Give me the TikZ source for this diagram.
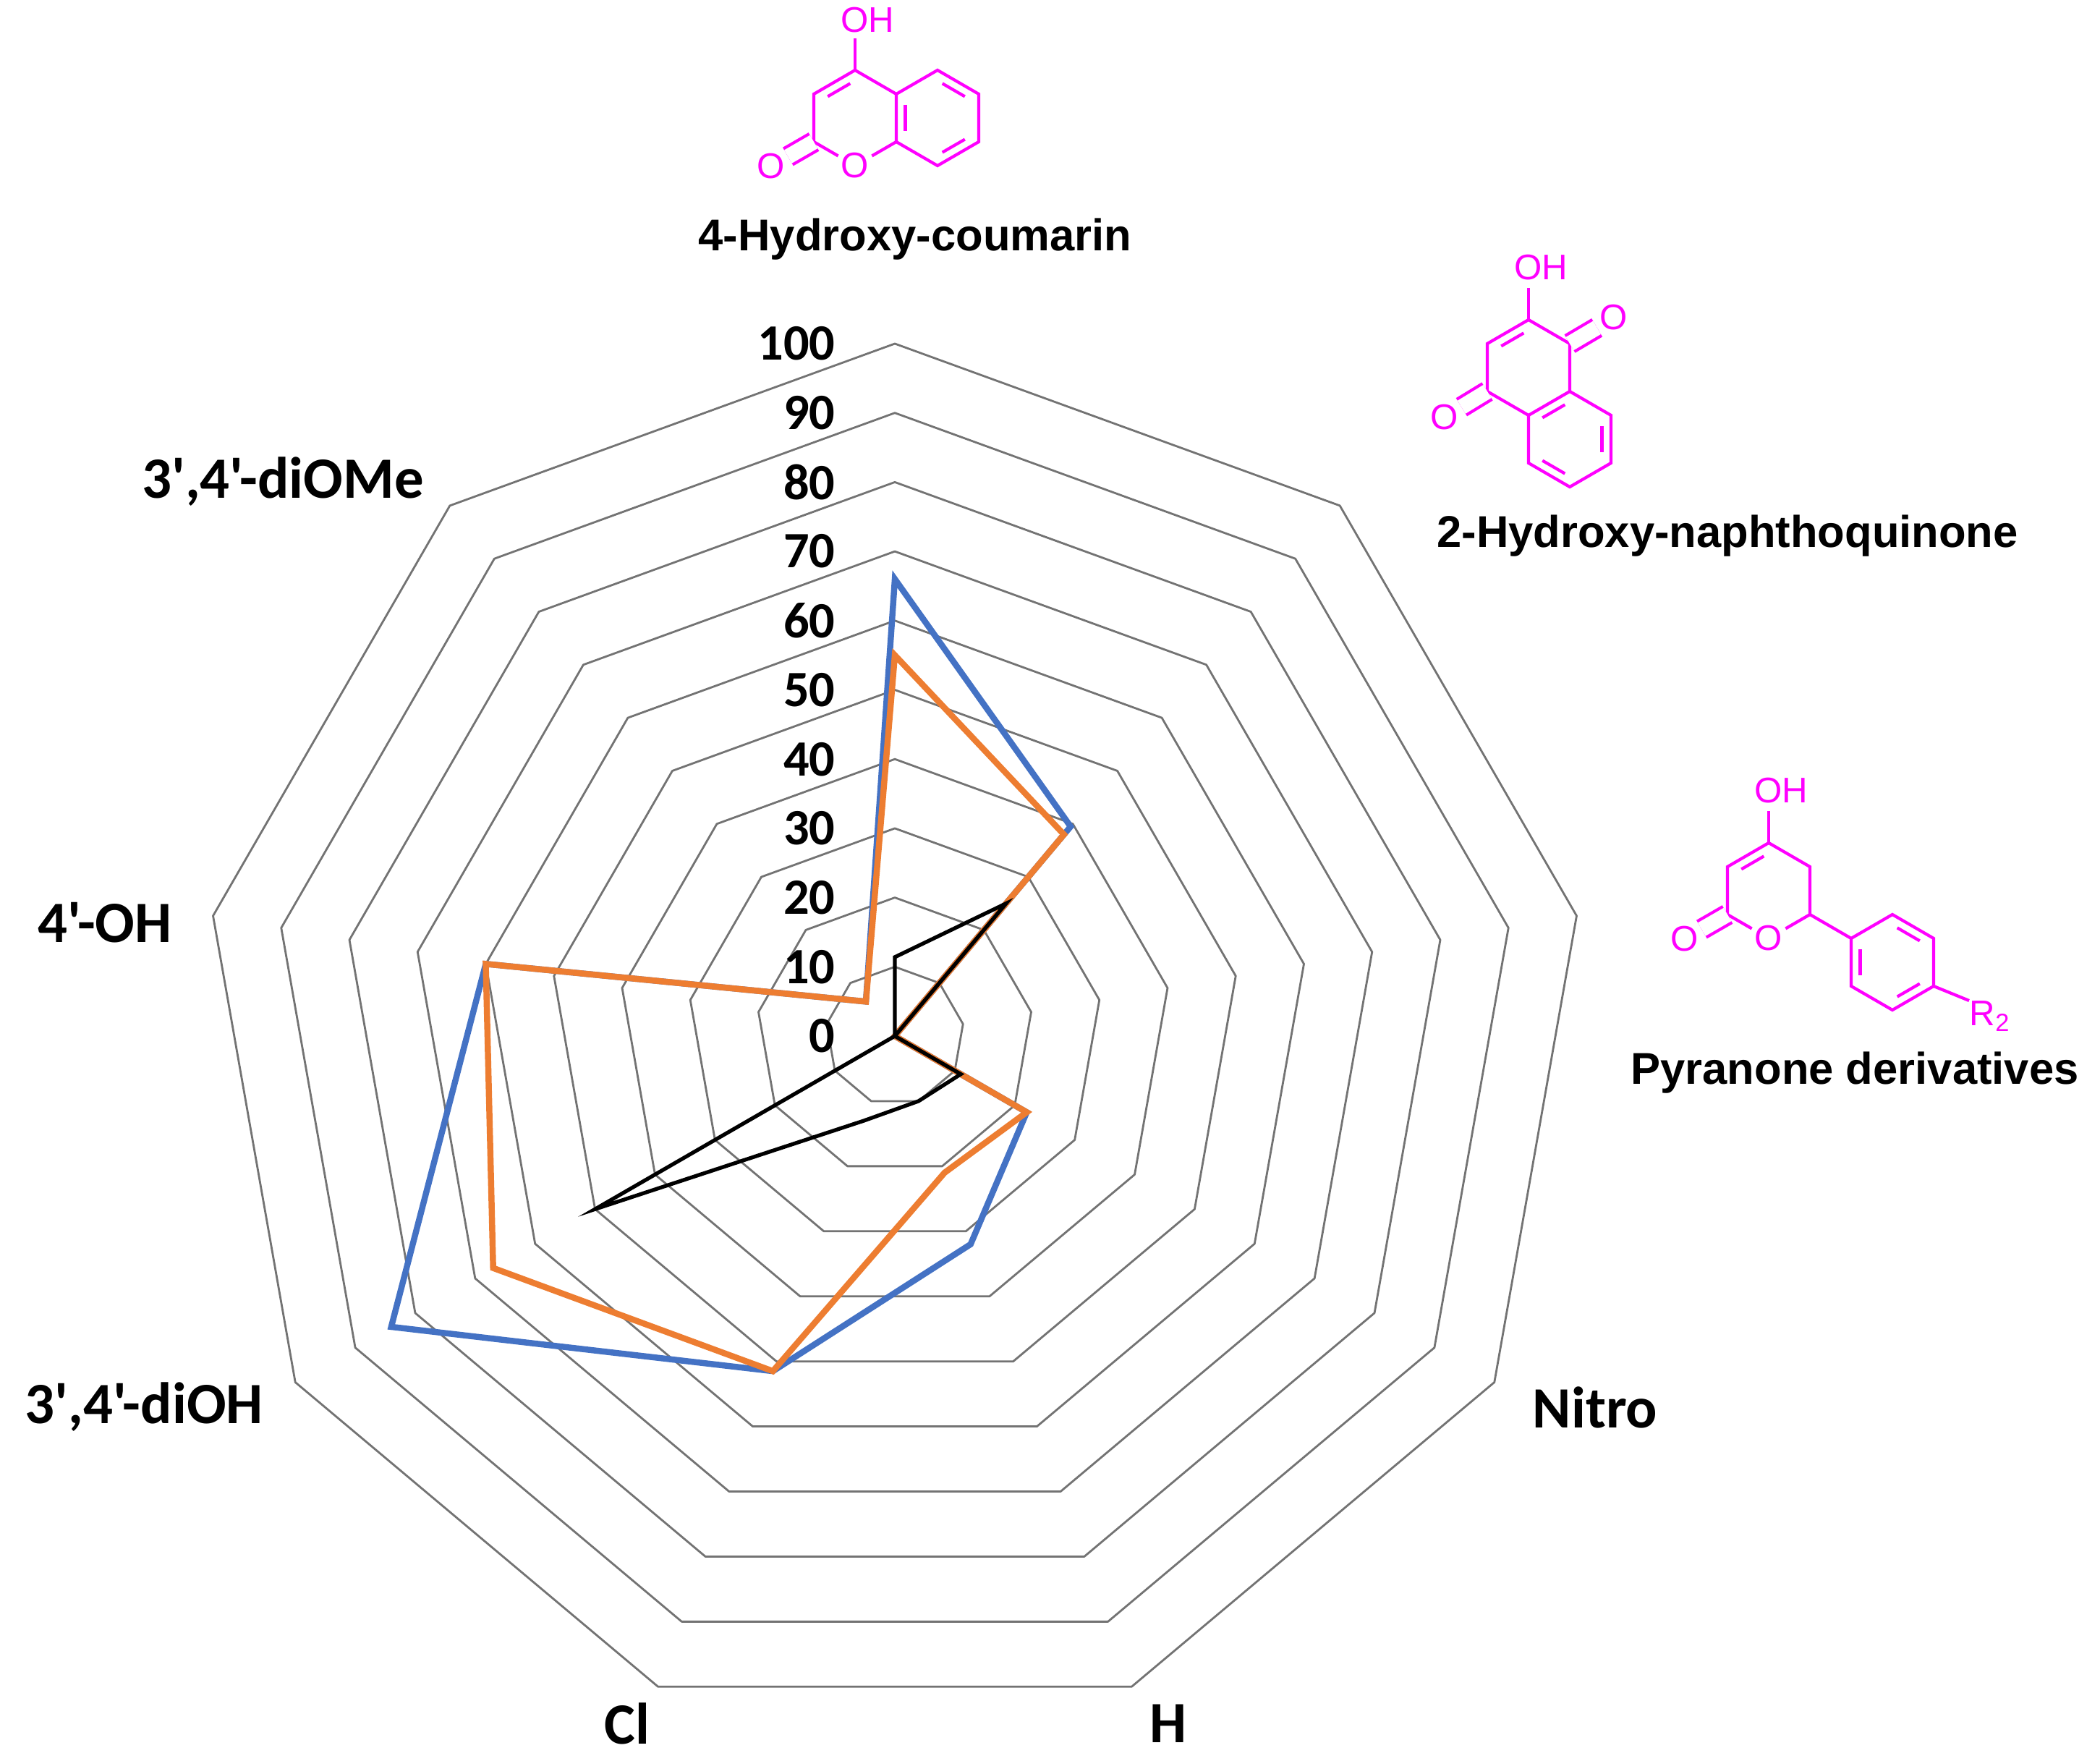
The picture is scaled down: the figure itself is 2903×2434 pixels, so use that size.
\documentclass[tikz,border=0pt]{standalone}
\usepackage{fontspec}
\setmainfont{Liberation Sans}
\newfontfamily\carl{Carlito}
\newfontfamily\arl{Liberation Sans}
\usetikzlibrary{calc}
\definecolor{mag}{HTML}{FF00FF}
\definecolor{sblue}{HTML}{4472C4}
\definecolor{sorange}{HTML}{ED7D31}
\begin{document}
\begin{tikzpicture}[x=0.01cm,y=-0.01cm,
  ring/.style={draw=gray!90!black,line width=0.8pt,line join=round},
  series/.style={line width=2.4pt,line join=miter},
  tick/.style={anchor=east,font=\carl\bfseries\fontsize{20}{22}\selectfont},
  axl/.style={font=\carl\bfseries\fontsize{23}{26}\selectfont},
  mcap/.style={font=\arl\bfseries\fontsize{17.5}{20}\selectfont},
  bond/.style={draw=mag,line width=1.2pt},
  atom/.style={text=mag,font=\arl\fontsize{14}{16}\selectfont,inner sep=1pt},
  dbl/.style={bond,double=white,double distance=5\pgflinewidth}]
\useasboundingbox (0,0) rectangle (2903,2434);
% rings
\foreach \k in {1,...,10}{
  \draw[ring] ({1237+95.7*\k*cos(90)},{1432-95.7*\k*sin(90)})
  \foreach \a in {50,10,-30,-70,-110,-150,170,130}{ -- ({1237+95.7*\k*cos(\a)},{1432-95.7*\k*sin(\a)}) } -- cycle;
}
% tick labels
\foreach \v in {0,10,...,100}{
  \node[tick] (t\v) at (1167,{1432-9.57*\v}) {\v};
}
% series
\foreach \a/\v [count=\i] in {90/66,50/39.5,10/0,-30/22,-70/32,-110/51.5,-150/84,170/60,130/6.5}
  \coordinate (b\i) at ({1237+9.57*\v*cos(\a)},{1432-9.57*\v*sin(\a)});
\foreach \a/\v [count=\i] in {90/55,50/38,10/0,-30/22,-70/21,-110/51.5,-150/67,170/60,130/6.5}
  \coordinate (o\i) at ({1237+9.57*\v*cos(\a)},{1432-9.57*\v*sin(\a)});
\foreach \a/\v [count=\i] in {90/11.4,50/25,10/0,-30/11,-70/10,-110/13,-150/50,170/0,130/0}
  \coordinate (k\i) at ({1237+9.57*\v*cos(\a)},{1432-9.57*\v*sin(\a)});
\draw[series,sblue] (b1)--(b2)--(b3)--(b4)--(b5)--(b6)--(b7)--(b8)--(b9)--cycle;
\draw[series,sorange] (o1)--(o2)--(o3)--(o4)--(o5)--(o6)--(o7)--(o8)--(o9)--cycle;
\draw[line width=1.5pt,black,line join=miter] (k1)--(k2)--(k3)--(k4)--(k5)--(k6)--(k7)--(k8)--(k9)--cycle;
% axis labels
\node[axl] (lomea) at (391,666) {3',4'-diOMe};
\node[axl] (loh) at (145,1275) {4'-OH};
\node[axl] (ldioh) at (199,1945) {3',4'-diOH};
\node[axl] (lcl) at (867,2382) {Cl};
\node[axl] (lh) at (1615,2382) {H};
\node[axl] (lnitro) at (2205,1945) {Nitro};
\node[mcap] (lpyr) at (2564,1483) {Pyranone derivatives};
\node[mcap] (lnaph) at (2388,741) {2-Hydroxy-naphthoquinone};
\node[mcap] (lcoum) at (1265,331) {4-Hydroxy-coumarin};
% ---- coumarin
\coordinate (cA) at (1182,163); \coordinate (cB) at (1296,163);
\coordinate (c4) at (1182,97); \coordinate (c4a) at (1239,130); \coordinate (c8a) at (1239,196);
\node[atom] (c1) at (1182,229) {O};
\coordinate (c2) at (1125,196); \coordinate (c3) at (1125,130);
\coordinate (c5) at (1296,97); \coordinate (c6) at (1353,130); \coordinate (c7) at (1353,196); \coordinate (c8) at (1296,229);
\node[atom] (cO) at (1066,230) {O};
\node[atom] (cOH) at (1199,28) {OH};
\coordinate (cOHb) at (1182,53);
\draw[bond] (c4)--(cOHb);
\draw[bond] (c2)--(c3)--(c4)--(c4a)--(c8a)--(c1)--(c2);
\draw[bond] (c4a)--(c5)--(c6)--(c7)--(c8)--(c8a);
\draw[bond] ($(c3)!0.15!(c4)!0.22!(cA)$)--($(c4)!0.15!(c3)!0.22!(cA)$);
\draw[bond] ($(c4a)!0.15!(c8a)!0.22!(cB)$)--($(c8a)!0.15!(c4a)!0.22!(cB)$);
\draw[bond] ($(c5)!0.15!(c6)!0.22!(cB)$)--($(c6)!0.15!(c5)!0.22!(cB)$);
\draw[bond] ($(c7)!0.15!(c8)!0.22!(cB)$)--($(c8)!0.15!(c7)!0.22!(cB)$);
\draw[dbl] (c2)--(cO);
% ---- naphthoquinone
\coordinate (nA) at (2113,508); \coordinate (nB) at (2170,607);
\coordinate (n2) at (2113,442); \coordinate (n1) at (2170,475); \coordinate (n8a) at (2170,541);
\coordinate (n4a) at (2113,574); \coordinate (n4) at (2056,541); \coordinate (n3) at (2056,475);
\coordinate (n5) at (2227,574); \coordinate (n6) at (2227,640); \coordinate (n7) at (2170,673); \coordinate (n8) at (2113,640);
\node[atom] (nO1) at (2231,439) {O};
\node[atom] (nO4) at (1997,577) {O};
\node[atom] (nOH) at (2130,370) {OH};
\coordinate (nOHb) at (2113,398);
\draw[bond] (n2)--(nOHb);
\draw[bond] (n2)--(n1)--(n8a)--(n4a)--(n4)--(n3)--(n2);
\draw[bond] (n8a)--(n5)--(n6)--(n7)--(n8)--(n4a);
\draw[bond] ($(n2)!0.15!(n3)!0.22!(nA)$)--($(n3)!0.15!(n2)!0.22!(nA)$);
\draw[bond] ($(n4a)!0.15!(n8a)!0.22!(nB)$)--($(n8a)!0.15!(n4a)!0.22!(nB)$);
\draw[bond] ($(n5)!0.15!(n6)!0.22!(nB)$)--($(n6)!0.15!(n5)!0.22!(nB)$);
\draw[bond] ($(n7)!0.15!(n8)!0.22!(nB)$)--($(n8)!0.15!(n7)!0.22!(nB)$);
\draw[dbl] (n1)--(nO1);
\draw[dbl] (n4)--(nO4);
% ---- pyranone
\coordinate (pA) at (2445,1231); \coordinate (pB) at (2616,1330);
\coordinate (p4) at (2445,1165); \coordinate (p5) at (2502,1198); \coordinate (p6) at (2502,1264);
\node[atom] (p1) at (2445,1297) {O};
\coordinate (p2) at (2388,1264); \coordinate (p3) at (2388,1198);
\node[atom] (pO) at (2329,1298) {O};
\node[atom] (pOH) at (2462,1093) {OH};
\coordinate (pOHb) at (2445,1121);
\coordinate (q1) at (2559,1297); \coordinate (q2) at (2616,1264); \coordinate (q3) at (2673,1297);
\coordinate (q4) at (2673,1363); \coordinate (q5) at (2616,1396); \coordinate (q6) at (2559,1363);
\node[atom,anchor=north west,inner sep=0pt] (pR) at (2722,1383) {R\textsubscript{2}};
\draw[bond] (p4)--(pOHb);
\draw[bond] (p2)--(p3)--(p4)--(p5)--(p6)--(p1)--(p2);
\draw[bond] ($(p3)!0.15!(p4)!0.22!(pA)$)--($(p4)!0.15!(p3)!0.22!(pA)$);
\draw[dbl] (p2)--(pO);
\draw[bond] (p6)--(q1)--(q2)--(q3)--(q4)--(q5)--(q6)--(q1);
\draw[bond] ($(q2)!0.15!(q3)!0.22!(pB)$)--($(q3)!0.15!(q2)!0.22!(pB)$);
\draw[bond] ($(q6)!0.15!(q1)!0.22!(pB)$)--($(q1)!0.15!(q6)!0.22!(pB)$);
\draw[bond] ($(q4)!0.15!(q5)!0.22!(pB)$)--($(q5)!0.15!(q4)!0.22!(pB)$);
\draw[bond] (q4)--(pR.north west);
\end{tikzpicture}
\end{document}
